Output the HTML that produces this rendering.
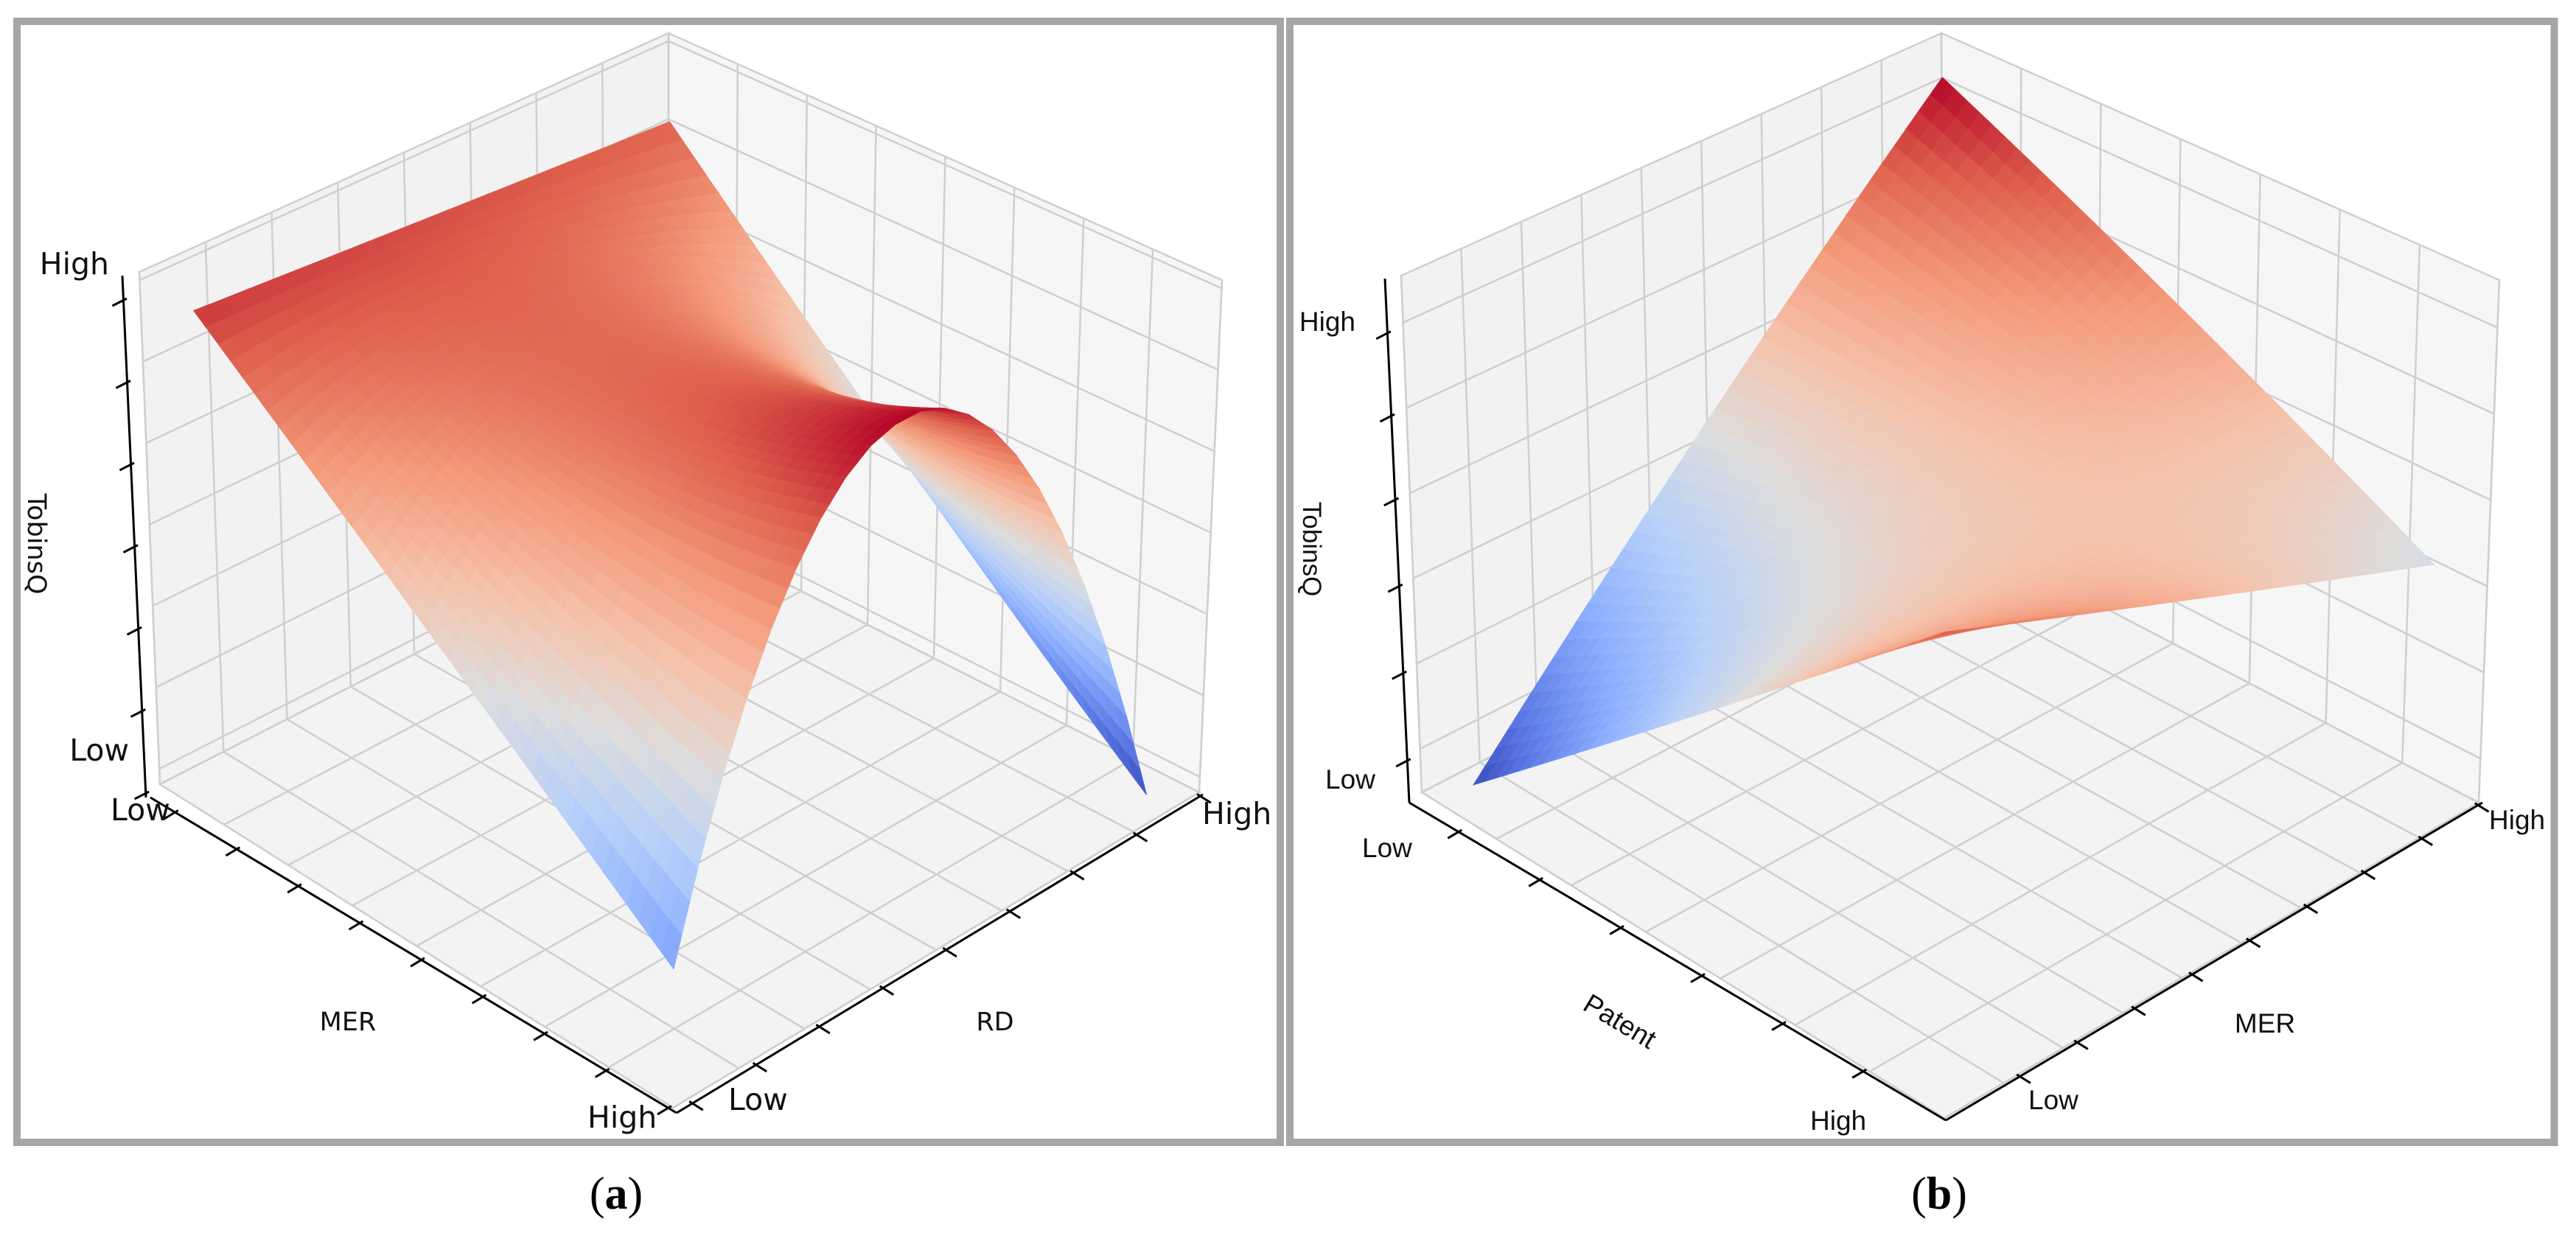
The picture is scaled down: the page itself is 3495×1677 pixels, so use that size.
<!DOCTYPE html>
<html><head><meta charset="utf-8"><style>
html,body{margin:0;padding:0;background:#fff;}
svg{display:block;}
</style></head><body>
<svg id="fig" xmlns="http://www.w3.org/2000/svg" width="3495" height="1677" viewBox="0 0 3495 1677">
<rect x="0" y="0" width="3495" height="1677" fill="#fff"/>
<rect x="23" y="29" width="1714" height="1521" fill="none" stroke="#a6a6a6" stroke-width="10"/>
<rect x="1750" y="29" width="1715.5" height="1521" fill="none" stroke="#a6a6a6" stroke-width="10"/>
<g id="panelA"></g>
<g id="panelB"></g>
<text x="836" y="1640" text-anchor="middle" font-family="'Liberation Serif', serif" font-size="62" fill="#000">(<tspan font-weight="bold">a</tspan>)</text>
<text x="2631" y="1640" text-anchor="middle" font-family="'Liberation Serif', serif" font-size="62" fill="#000">(<tspan font-weight="bold">b</tspan>)</text>
</svg>
<script>
// ---------- Panel (a) data: TobinsQ over RD at MER Low / Mid / High ----------
const rdSamples = [0,0.05,0.1,0.15,0.2,0.25,0.3,0.35,0.4,0.45,0.5,0.55,0.6,0.65,0.7,0.75,0.8,0.85,0.9,0.95,1];
const tobinsAtLowMER = [0.93,0.927,0.924,0.921,0.918,0.915,0.912,0.909,0.906,0.903,0.9,0.897,0.894,0.891,0.888,0.885,0.882,0.879,0.876,0.873,0.87];
const tobinsAtMidMER = [0.55,0.615,0.672,0.722,0.764,0.798,0.825,0.844,0.856,0.86,0.856,0.845,0.826,0.799,0.765,0.723,0.674,0.617,0.552,0.48,0.4];
const tobinsAtHighMER = [0.2,0.361,0.504,0.629,0.736,0.825,0.896,0.949,0.984,1.0,1.0,0.981,0.944,0.889,0.816,0.725,0.616,0.489,0.344,0.181,0.0];
const zTicksA = [0.03,0.189,0.348,0.507,0.666,0.825,0.984];
const merTicksA = [0.047,0.164,0.281,0.398,0.515,0.632,0.749,0.866,0.984];
const rdTicksA = [0.03,0.151,0.271,0.392,0.512,0.633,0.754,0.874,0.995];

// ---------- Panel (b) data: TobinsQ over MER at Patent Low / Mid / High ----------
const merSamplesB = [0,0.1,0.2,0.3,0.4,0.5,0.6,0.7,0.8,0.9,1];
const tobinsAtLowPatent = [0.02,0.114,0.208,0.302,0.396,0.49,0.584,0.678,0.772,0.866,0.96];
const tobinsAtMidPatent = [0.435,0.4625,0.49,0.5175,0.545,0.5725,0.6,0.6275,0.655,0.6825,0.71];
const tobinsAtHighPatent = [0.85,0.811,0.772,0.733,0.694,0.655,0.616,0.577,0.538,0.499,0.46];
const zTicksB = [0.084,0.249,0.414,0.579,0.744,0.909];
const patentTicksB = [0.092,0.243,0.394,0.545,0.696,0.846];
const merTicksB = [0.138,0.245,0.352,0.459,0.566,0.673,0.78,0.887,0.992];

const NS = "http://www.w3.org/2000/svg";
function mk(tag, attrs, parent){
  const el = document.createElementNS(NS, tag);
  for (const k in attrs) el.setAttribute(k, attrs[k]);
  parent.appendChild(el);
  return el;
}
const CM = [[0,59,76,192],[0.125,98,130,234],[0.25,141,176,254],[0.375,184,208,249],[0.5,221,221,221],[0.625,245,196,173],[0.75,244,154,123],[0.875,222,96,77],[1,180,4,38]];
function coolwarm(t){
  t = Math.max(0, Math.min(1, t));
  for (let i=1;i<CM.length;i++){
    if (t <= CM[i][0]){
      const a=CM[i-1], b=CM[i], f=(t-a[0])/(b[0]-a[0]);
      return 'rgb('+Math.round(a[1]+(b[1]-a[1])*f)+','+Math.round(a[2]+(b[2]-a[2])*f)+','+Math.round(a[3]+(b[3]-a[3])*f)+')';
    }
  }
  return 'rgb(180,4,38)';
}
function proj(box, p, q, w){
  const bil = c => [
    c.L[0]*(1-p)*(1-q)+c.F[0]*p*(1-q)+c.R[0]*p*q+c.B[0]*(1-p)*q,
    c.L[1]*(1-p)*(1-q)+c.F[1]*p*(1-q)+c.R[1]*p*q+c.B[1]*(1-p)*q];
  const b = bil(box.bot), t = bil(box.top);
  return [b[0]+(t[0]-b[0])*w, b[1]+(t[1]-b[1])*w];
}
function pts(a){ return a.map(v=>v[0].toFixed(1)+','+v[1].toFixed(1)).join(' '); }

function drawPanel(g, box, cfg){
  const GRID = '#cfcfcf';
  const lw = mk('polygon', {points: pts([proj(box,0,0,0),proj(box,0,1,0),proj(box,0,1,1),proj(box,0,0,1)]), fill:'#f2f2f2', stroke:GRID, 'stroke-width':2.5}, g);
  
  
  const rw = mk('polygon', {points: pts([proj(box,0,1,0),proj(box,1,1,0),proj(box,1,1,1),proj(box,0,1,1)]), fill:'#f6f6f6', stroke:GRID, 'stroke-width':2.5}, g);
  
  
  const fl = mk('polygon', {points: pts([proj(box,0,0,0),proj(box,1,0,0),proj(box,1,1,0),proj(box,0,1,0)]), fill:'#f3f3f3', stroke:GRID, 'stroke-width':2.5}, g);
  
  
  function line(a,b,name){
    const el = mk('line', {x1:a[0].toFixed(1), y1:a[1].toFixed(1), x2:b[0].toFixed(1), y2:b[1].toFixed(1), stroke:GRID, 'stroke-width':2.5}, g);
    
    
  }
  for (let i=0;i<=cfg.qDiv;i++){ const q=i/cfg.qDiv;
    line(proj(box,0,q,0), proj(box,0,q,1), 'left-wall-gridline');
    line(proj(box,0,q,0), proj(box,1,q,0), 'floor-gridline'); }
  for (let i=0;i<=cfg.pDiv;i++){ const p=i/cfg.pDiv;
    line(proj(box,p,1,0), proj(box,p,1,1), 'right-wall-gridline');
    line(proj(box,p,0,0), proj(box,p,1,0), 'floor-gridline'); }
  cfg.zTicks.forEach(w=>{
    line(proj(box,0,0,w), proj(box,0,1,w), 'left-wall-gridline');
    line(proj(box,0,1,w), proj(box,1,1,w), 'right-wall-gridline'); });

  const d = cfg.margin, P = cfg.pSteps, sub = cfg.sub;
  const qs = cfg.qSamples, zl = cfg.zLow, zm0 = cfg.zMid, zh = cfg.zHigh;
  const zmin = Math.min(...zl, ...zm0, ...zh), zmax = Math.max(...zl, ...zm0, ...zh);
  const qFine = [], zlF = [], zmF = [], zhF = [];
  for (let i=0;i<qs.length-1;i++){
    for (let s=0;s<sub;s++){ const f=s/sub;
      qFine.push(qs[i]+(qs[i+1]-qs[i])*f);
      zlF.push(zl[i]+(zl[i+1]-zl[i])*f);
      zmF.push(zm0[i]+(zm0[i+1]-zm0[i])*f);
      zhF.push(zh[i]+(zh[i+1]-zh[i])*f); }
  }
  const n=qs.length-1;
  qFine.push(qs[n]); zlF.push(zl[n]); zmF.push(zm0[n]); zhF.push(zh[n]);
  const facets = [];
  const zAt = (ip, iq) => { const f = ip/P;
    return zlF[iq]*(1-f)*(1-2*f) + zmF[iq]*4*f*(1-f) + zhF[iq]*f*(2*f-1); };
  const pAt = ip => d + (1-2*d)*ip/P;
  const qAt = iq => d + (1-2*d)*qFine[iq];
  for (let ip=0; ip<P; ip++){
    for (let iq=0; iq<qFine.length-1; iq++){
      const c = [[ip,iq],[ip+1,iq],[ip+1,iq+1],[ip,iq+1]];
      let zs = 0;
      const poly = c.map(([a,b])=>{ const z=zAt(a,b); zs+=z; return proj(box, pAt(a), qAt(b), z); });
      const zm = zs/4;
      const pm = (pAt(ip)+pAt(ip+1))/2, qm = (qAt(iq)+qAt(iq+1))/2;
      facets.push({poly, col: coolwarm((zm-zmin)/(zmax-zmin)), key: (1-pm)+qm});
    }
  }
  facets.sort((a,b)=>b.key-a.key);
  const sg = mk('g', {}, g);
  
  
  facets.forEach(f=>{
    const el = mk('polygon', {points: pts(f.poly), fill: f.col, stroke: f.col, 'stroke-width': 1.2}, sg);
    
    
  });

  function axis(a, b, ticks, dir, name){
    const el = mk('line', {x1:a[0], y1:a[1], x2:b[0], y2:b[1], stroke:'#000', 'stroke-width':3}, g);
    
    
    ticks.forEach(t=>{
      const x = a[0]+(b[0]-a[0])*t, y = a[1]+(b[1]-a[1])*t;
      const tk = mk('line', {x1:(x-dir[0]*5).toFixed(1), y1:(y-dir[1]*5).toFixed(1), x2:(x+dir[0]*17).toFixed(1), y2:(y+dir[1]*17).toFixed(1), stroke:'#000', 'stroke-width':3}, g);
      
      
    });
  }
  const nrm = v => { const l=Math.hypot(v[0],v[1]); return [v[0]/l, v[1]/l]; };
  const L0=box.bot.L, F0=box.bot.F, R0=box.bot.R, B0=box.bot.B;
  axis(cfg.zAxis[0], cfg.zAxis[1], cfg.zTickT, nrm([L0[0]-B0[0], L0[1]-B0[1]]), 'z-axis');
  axis(cfg.pAxis[0], cfg.pAxis[1], cfg.pTickT, nrm([F0[0]-R0[0], F0[1]-R0[1]]), cfg.pName+'-axis');
  axis(cfg.qAxis[0], cfg.qAxis[1], cfg.qTickT, nrm([F0[0]-L0[0], F0[1]-L0[1]]), cfg.qName+'-axis');
}
function label(g, txt, x, y, size, font, anchor, name, rot){
  const el = mk('text', {x:x, y:y, 'font-size':size, 'font-family':font, 'text-anchor':anchor, fill:'#111'}, g);
  if (rot) el.setAttribute('transform', 'rotate('+rot[0]+' '+rot[1]+' '+rot[2]+')');
  el.textContent = txt;
  
  
}

// ---- Panel A ----
const gA = document.getElementById('panelA');
const boxA = { bot:{L:[217,1064],F:[913,1503],R:[1627,1075],B:[907,711]}, top:{L:[189,369],F:[913,773],R:[1658,380],B:[907,45]} };
drawPanel(gA, boxA, {
  qDiv:8, pDiv:8, zTicks: zTicksA, margin:0.05, pSteps:40, sub:3,
  qSamples: rdSamples, zLow: tobinsAtLowMER, zMid: tobinsAtMidMER, zHigh: tobinsAtHighMER,
  zAxis:[[166,374],[198,1082]], zTickT: zTicksA.map(w=>1-(w-0.03)/(0.984-0.03)*0.945-0.008),
  pAxis:[[204,1082],[918,1510]], pTickT: merTicksA, pName:'mer',
  qAxis:[[918,1510],[1632,1078]], qTickT: rdTicksA, qName:'rd'
});
const fA = "'DejaVu Sans', 'Liberation Sans', sans-serif";
label(gA,'High',148,372,41,fA,'end','z-high-label');
label(gA,'Low',175,1032,41,fA,'end','z-low-label');
label(gA,'Low',150,1113,41,fA,'start','mer-low-label');
label(gA,'High',797,1530,41,fA,'start','mer-high-label');
label(gA,'Low',988,1506,41,fA,'start','rd-low-label');
label(gA,'High',1631,1118,41,fA,'start','rd-high-label');
label(gA,'MER',472,1398,35,fA,'middle','mer-axis-title');
label(gA,'RD',1350,1398,35,fA,'middle','rd-axis-title');
label(gA,'TobinsQ',38,738,35,fA,'middle','z-axis-title',[90,38,738]);

// ---- Panel B ----
const gB = document.getElementById('panelB');
const boxB = { bot:{L:[1929,1075],F:[2638,1517],R:[3363,1089],B:[2637,711]}, top:{L:[1901,374],F:[2638,790],R:[3391,380],B:[2634,45]} };
drawPanel(gB, boxB, {
  qDiv:9, pDiv:7, zTicks: zTicksB, margin:0.05, pSteps:40, sub:4,
  qSamples: merSamplesB, zLow: tobinsAtLowPatent, zMid: tobinsAtMidPatent, zHigh: tobinsAtHighPatent,
  zAxis:[[1879,378],[1912,1089]], zTickT: [0.92,0.753,0.587,0.422,0.262,0.104],
  pAxis:[[1912,1089],[2640,1520]], pTickT: patentTicksB, pName:'patent',
  qAxis:[[2640,1520],[3368,1089]], qTickT: merTicksB, qName:'mer'
});
const fB = "'Liberation Sans', 'DejaVu Sans', sans-serif";
label(gB,'High',1839,449,37,fB,'end','z-high-label');
label(gB,'Low',1866,1070,37,fB,'end','z-low-label');
label(gB,'Low',1848,1163,37,fB,'start','patent-low-label');
label(gB,'High',2456,1533,37,fB,'start','patent-high-label');
label(gB,'Low',2752,1505,37,fB,'start','mer-low-label');
label(gB,'High',3377,1125,37,fB,'start','mer-high-label');
label(gB,'MER',3073,1401,37,fB,'middle','mer-axis-title');
label(gB,'Patent',2197,1398,37,fB,'middle','patent-axis-title',[31,2197,1387]);
label(gB,'TobinsQ',1768,745,35,fB,'middle','z-axis-title',[90,1768,745]);
</script>
</body></html>
